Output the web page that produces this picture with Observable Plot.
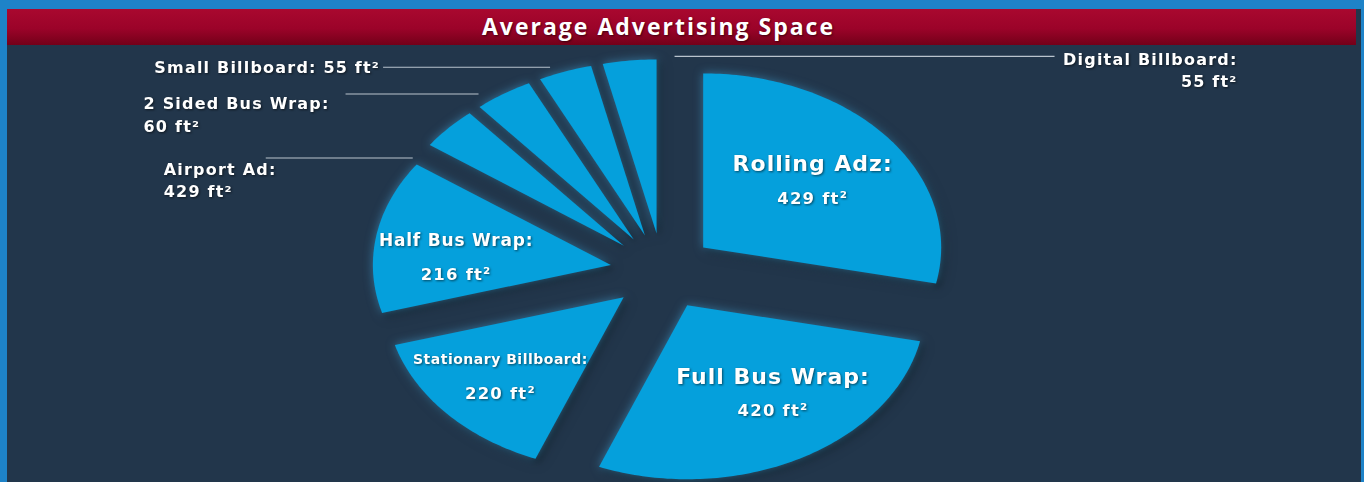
<!DOCTYPE html>
<html><head><meta charset="utf-8">
<script src="https://cdn.jsdelivr.net/npm/d3@7"></script>
<script src="https://cdn.jsdelivr.net/npm/@observablehq/plot@0.6"></script>
<style>
html,body{margin:0;padding:0;background:#1e83c8;width:1364px;height:482px;overflow:hidden}
#frame{position:absolute;left:7px;top:9px;width:1354px;height:473px;background:#22364b}
#title{position:absolute;left:0;top:0;width:1303px;padding-right:46px;height:36px;background:linear-gradient(#a9082f 0%,#9b0329 55%,#730019 100%);color:#fff;font:bold 23px "Open Sans";letter-spacing:2px;text-align:center;line-height:35px;text-shadow:1px 1px 2px rgba(0,0,0,.55)}
#chart{position:absolute;left:0;top:36px}
</style></head><body>
<div id="frame"><div id="title"></div><div id="chart"></div></div>
<script>
// ---- data ----
const chartTitle = "Average Advertising Space";
const categories = ["Rolling Adz", "Full Bus Wrap", "Stationary Billboard", "Half Bus Wrap", "Airport Ad", "2 Sided Bus Wrap", "Small Billboard", "Digital Billboard"];
// slice sizes as drawn (the Airport Ad slice is drawn about as large as the 60 ft² slice)
const sliceSizes = [429, 420, 220, 216, 60, 60, 55, 55];
const valueLabels = ["429 ft²", "420 ft²", "220 ft²", "216 ft²", "429 ft²", "60 ft²", "55 ft²", "55 ft²"];

// ---- layout ----
const W = 1354, H = 437;
const CX = 655, CY = 226, RX = 238, RY = 174;
const EXPLODE = 0.22, LABEL_R = 0.63;
const FONT = "DejaVu Sans";
const SLICE_FILL = "#05a0dc";
const nameStyle = {
  "Rolling Adz": {size: 22, ls: 1, nudge: [-7, 3]},
  "Full Bus Wrap": {size: 22, ls: 1, nudge: [15, -8]},
  "Half Bus Wrap": {size: 17, ls: 0.8, nudge: [-7, 11]},
  "Stationary Billboard": {size: 14, ls: 0.5, nudge: [-12, 6]}
};
const callouts = {
  "Airport Ad":        {corner: "start", y: 13,  l0: -17, l1: -164, tdx: -266, tdy: 12, vdy: 34, anchor: "start"},
  "2 Sided Bus Wrap":  {corner: "start", y: -13, l0: -1,  l1: -134, tdx: -336, tdy: 10, vdy: 33, anchor: "start"},
  "Small Billboard":   {corner: "start", y: -12, l0: 10,  l1: -157, tdx: -160, tdy: 1,  inline: true, anchor: "end"},
  "Digital Billboard": {corner: "end",   y: -3,  l0: 18,  l1: 398,  tdx: 581,  tdy: 3,  vdy: 25, anchor: "end"}
};

document.getElementById("title").textContent = chartTitle;

const arcs = d3.pie().sort(null).value(d => d)(sliceSizes);
const slices = categories.map((name, i) => {
  const a0 = arcs[i].startAngle, a1 = arcs[i].endAngle, mid = (a0 + a1) / 2;
  return {name, i, label: valueLabels[i], a0, a1, mid,
    ox: EXPLODE * Math.sin(mid), oy: EXPLODE * Math.cos(mid)};
});

const outline = [];
for (const s of slices) {
  outline.push({name: s.name, x: s.ox, y: s.oy});
  const n = Math.max(8, Math.ceil((s.a1 - s.a0) * 180 / Math.PI));
  for (let k = 0; k <= n; k++) {
    const a = s.a0 + (s.a1 - s.a0) * k / n;
    outline.push({name: s.name, x: s.ox + Math.sin(a), y: s.oy + Math.cos(a)});
  }
}

const inner = slices.filter(s => !callouts[s.name]).map(s => {
  const st = nameStyle[s.name];
  return {...s, ...st,
    x: s.ox + LABEL_R * Math.sin(s.mid) + st.nudge[0] / RX,
    y: s.oy + LABEL_R * Math.cos(s.mid) - st.nudge[1] / RY};
});

const outer = slices.filter(s => callouts[s.name]).map(s => {
  const c = callouts[s.name];
  const a = c.corner === "start" ? s.a0 : s.a1;
  const x = s.ox + Math.sin(a), y = s.oy + Math.cos(a);
  const ly = y - c.y / RY;
  return {...s, ...c, x, y: ly, lx0: x + c.l0 / RX, lx1: x + c.l1 / RX};
});
const outerVals = outer.filter(d => !d.inline);

const plot = Plot.plot({
  width: W, height: H, margin: 0,
  x: {domain: [-1, 1], range: [CX - RX, CX + RX], axis: null},
  y: {domain: [-1, 1], range: [CY + RY, CY - RY], axis: null},
  style: {background: "transparent", overflow: "visible"},
  marks: [
    Plot.link(outer, {x1: "lx0", x2: "lx1", y1: "y", y2: "y", stroke: "#b9c3cd", strokeWidth: 1.2}),
    Plot.line(outline, {x: "x", y: "y", z: "name", fill: SLICE_FILL, stroke: "none", curve: "linear-closed"}),
    Plot.text(inner, {x: "x", y: "y", text: d => d.name + ":", dy: -17, fill: "white", fontWeight: "bold",
      fontFamily: FONT, fontSize: d => d.size}),
    Plot.text(inner, {x: "x", y: "y", text: "label", dy: 17, fill: "white", fontWeight: "bold",
      fontFamily: FONT, fontSize: 16.5}),
    Plot.text(outer, {x: "x", y: "y", text: d => d.inline ? `${d.name}: ${d.label}` : d.name + ":",
      fill: "white", fontWeight: "bold", fontFamily: FONT, fontSize: 16}),
    Plot.text(outerVals, {x: "x", y: "y", text: "label", fill: "white", fontWeight: "bold",
      fontFamily: FONT, fontSize: 16})
  ]
});

const textGroups = plot.querySelectorAll('g[aria-label="text"]');
const [innerNameG, innerValG, nameG, valG] = textGroups;
innerNameG.querySelectorAll("text").forEach((t, k) => t.setAttribute("letter-spacing", inner[k].ls));
innerValG.querySelectorAll("text").forEach(t => t.setAttribute("letter-spacing", 1.2));
nameG.querySelectorAll("text").forEach((t, k) => {
  const d = outer[k];
  t.setAttribute("text-anchor", d.anchor);
  t.setAttribute("letter-spacing", 1.2);
  t.setAttribute("transform", `${t.getAttribute("transform")} translate(${d.tdx},${d.tdy})`);
});
valG.querySelectorAll("text").forEach((t, k) => {
  const d = outerVals[k];
  t.setAttribute("text-anchor", d.anchor);
  t.setAttribute("letter-spacing", 1.2);
  t.setAttribute("transform", `${t.getAttribute("transform")} translate(${d.tdx},${d.vdy})`);
});
plot.querySelector('g[aria-label="line"]').style.filter =
  "drop-shadow(0 0 5px rgba(80,185,245,.55)) drop-shadow(3px 3px 3px rgba(0,0,0,.6))";
textGroups.forEach(g => g.style.filter = "drop-shadow(1px 1px 1px rgba(0,0,0,.55))");
document.getElementById("chart").appendChild(plot);
</script>
</body></html>
